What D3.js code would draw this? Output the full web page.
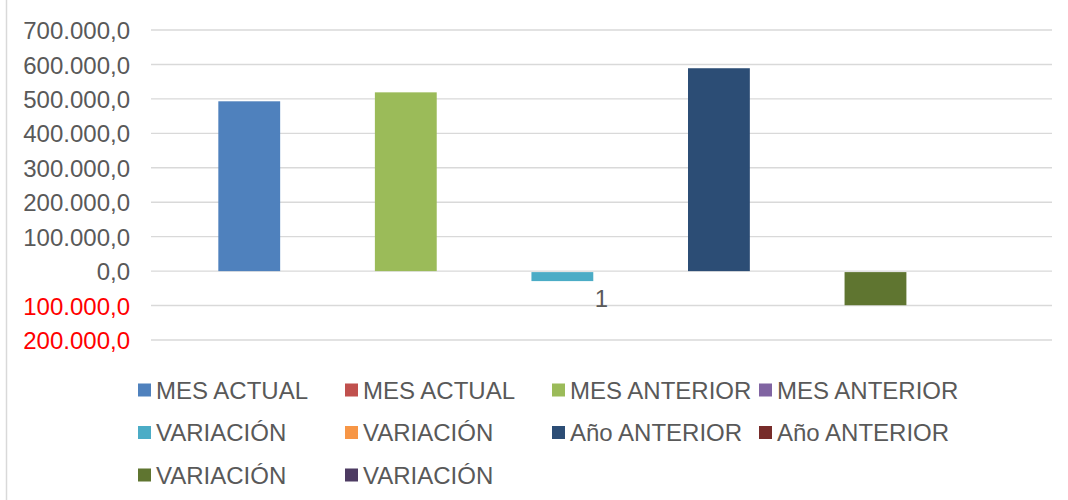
<!DOCTYPE html>
<html>
<head>
<meta charset="utf-8">
<script src="https://cdn.jsdelivr.net/npm/d3@7"></script>
<style>
  body { margin: 0; background: #fff; }
  svg { display: block; font-family: "Liberation Sans", Arial, sans-serif; }
</style>
</head>
<body>
<div id="chart"></div>
<script>
// chart data
var categories = ['1'];
var seriesNames = ['MES ACTUAL', 'MES ACTUAL', 'MES ANTERIOR', 'MES ANTERIOR', 'VARIACIÓN',
                   'VARIACIÓN', 'Año ANTERIOR', 'Año ANTERIOR', 'VARIACIÓN', 'VARIACIÓN'];
var seriesValues = [493000, 0, 519000, 0, -29000, 0, 589000, 0, -99000, 0];
var seriesColors = ['#4F81BD', '#C0504D', '#9BBB59', '#8064A2', '#4BACC6',
                    '#F79646', '#2C4D75', '#772C2A', '#5F7530', '#4D3B62'];
var yTicks = [-200000, -100000, 0, 100000, 200000, 300000, 400000, 500000, 600000, 700000];

var svgWidth = 1068;
var svgHeight = 500;
var plot = { left: 151, right: 1052, top: 30, bottom: 340 };
var fontSize = 24;
var textColor = '#595959';

var locale = d3.formatLocale({ decimal: ',', thousands: '.', grouping: [3], currency: ['', ''] });
var fmt = locale.format(',.1f');

var svg = d3.select('#chart').append('svg')
    .attr('width', svgWidth)
    .attr('height', svgHeight);

// chart border (only left edge visible)
svg.append('line')
    .attr('x1', 6.5).attr('x2', 6.5)
    .attr('y1', 0).attr('y2', svgHeight)
    .attr('stroke', '#d9d9d9').attr('stroke-width', 1.5);

var y = d3.scaleLinear()
    .domain([-200000, 700000])
    .range([plot.bottom, plot.top]);

var x0 = d3.scaleBand()
    .domain(categories)
    .range([plot.left, plot.right]);

var x1 = d3.scaleBand()
    .domain(d3.range(seriesNames.length))
    .range([0, x0.bandwidth()])
    .paddingInner(0.21)
    .paddingOuter(0.86);

// gridlines
svg.append('g')
    .selectAll('line')
    .data(yTicks)
    .enter()
    .append('line')
    .attr('x1', plot.left)
    .attr('x2', plot.right)
    .attr('y1', function(d) { return y(d); })
    .attr('y2', function(d) { return y(d); })
    .attr('stroke', '#d9d9d9')
    .attr('stroke-width', 1.4);

// y axis labels
var yAxis = d3.axisLeft(y)
    .tickValues(yTicks)
    .tickSize(0)
    .tickPadding(0)
    .tickFormat(function(d) { return fmt(Math.abs(d)); });

var yg = svg.append('g')
    .attr('transform', 'translate(130,0)')
    .call(yAxis);
yg.select('.domain').remove();
yg.selectAll('text')
    .attr('font-family', '"Liberation Sans", Arial, sans-serif')
    .attr('font-size', fontSize)
    .attr('dy', '0.36em')
    .attr('fill', function(d) { return d < 0 ? '#FF0000' : textColor; });

// bars
var barData = seriesValues.map(function(v, i) {
    return { i: i, value: v, cat: categories[0] };
});

svg.append('g')
    .selectAll('rect')
    .data(barData)
    .enter()
    .append('rect')
    .attr('x', function(d) { return x0(d.cat) + x1(d.i); })
    .attr('width', x1.bandwidth())
    .attr('y', function(d) { return d.value < 0 ? y(0) + 1 : y(d.value); })
    .attr('height', function(d) { return Math.max(0, Math.abs(y(d.value) - y(0)) - (d.value < 0 ? 1 : 0)); })
    .attr('fill', function(d) { return seriesColors[d.i]; });

// category label
svg.append('g')
    .selectAll('text')
    .data(categories)
    .enter()
    .append('text')
    .attr('x', function(d) { return x0(d) + x0.bandwidth() / 2; })
    .attr('y', y(0) + 36)
    .attr('text-anchor', 'middle')
    .attr('font-size', fontSize)
    .attr('fill', textColor)
    .text(function(d) { return d; });

// legend
var legendCols = 4;
var colStep = 207;
var rowStep = 42.5;
var legendX = 138;
var legendY = 390;

var legend = svg.append('g')
    .selectAll('g')
    .data(seriesNames)
    .enter()
    .append('g')
    .attr('transform', function(d, i) {
        return 'translate(' + (legendX + (i % legendCols) * colStep) + ',' +
            (legendY + Math.floor(i / legendCols) * rowStep) + ')';
    });

legend.append('rect')
    .attr('x', 0)
    .attr('y', -6.5)
    .attr('width', 13)
    .attr('height', 13)
    .attr('fill', function(d, i) { return seriesColors[i]; });

legend.append('text')
    .attr('x', 18)
    .attr('y', 0)
    .attr('dy', '0.36em')
    .attr('font-size', fontSize)
    .attr('fill', textColor)
    .text(function(d) { return d; });
</script>
</body>
</html>
